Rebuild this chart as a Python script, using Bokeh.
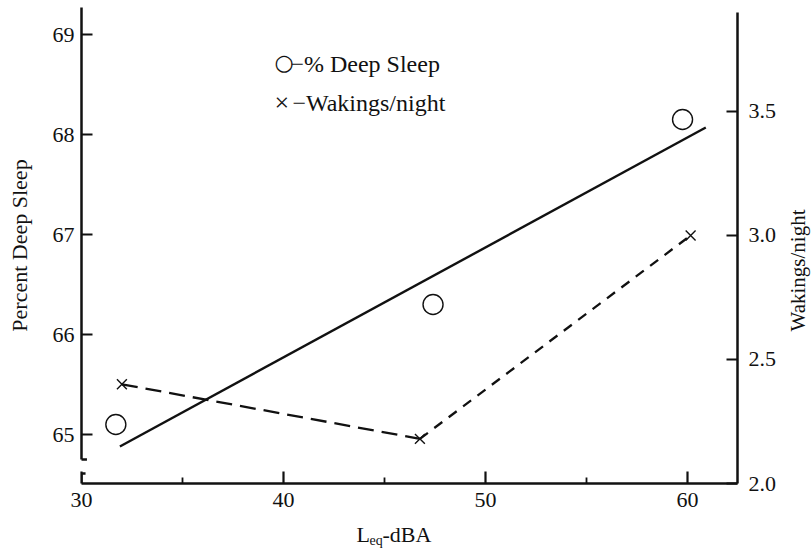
import math
from bokeh.plotting import figure
from bokeh.layouts import column, row
from bokeh.models import (Range1d, LinearAxis, FixedTicker, PrintfTickFormatter,
                          Label, Arrow)
from bokeh.core.properties import value
from bokeh.embed import file_html
from bokeh.resources import INLINE

# ---- data ----
leq_sleep = [31.7, 47.4, 59.75]          # L_eq (dBA) for % deep sleep points
deep_sleep = [65.1, 66.3, 68.15]         # Percent deep sleep (left axis)
leq_wake = [32.0, 46.75, 60.15]          # L_eq (dBA) for wakings points
wakings = [2.4, 2.18, 3.0]               # Wakings/night (right axis)
trend_x = [31.9, 60.9]                   # fitted line for % deep sleep
trend_y = [64.88, 68.07]

x_ticks = [30, 40, 50, 60]
x_minor = [35, 45, 55]
left_ticks = [65, 66, 67, 68, 69]
right_ticks = [2.0, 2.5, 3.0, 3.5]

FONT = "Liberation Serif"
INK = "#111111"
X_RANGE = (30, 62.47)
MAIN_W = 783

def blank(fig):
    fig.outline_line_color = None
    fig.grid.visible = False
    fig.background_fill_color = "white"
    fig.border_fill_color = "white"

p = figure(width=MAIN_W, height=519, output_backend="svg", toolbar_location=None,
           x_range=Range1d(*X_RANGE), y_range=Range1d(64.51, 69.27),
           min_border_left=81, min_border_right=46, min_border_top=7,
           min_border_bottom=36, x_axis_location=None, y_axis_location=None)
blank(p)
p.extra_y_ranges = {"wak": Range1d(2.0, 3.919)}

def style(ax):
    ax.axis_line_width = 2.5
    ax.axis_line_color = INK
    ax.major_tick_line_color = INK
    ax.major_tick_line_width = 2.2
    ax.minor_tick_line_color = INK
    ax.minor_tick_line_width = 1.8
    ax.major_tick_out = 0
    ax.minor_tick_out = 0
    ax.major_label_text_font = FONT
    ax.major_label_text_font_size = "22px"
    ax.major_label_text_color = INK
    ax.axis_label_text_font = FONT
    ax.axis_label_text_font_size = "22px"
    ax.axis_label_text_font_style = "normal"
    ax.axis_label_text_color = INK

xa = LinearAxis(ticker=FixedTicker(ticks=x_ticks, minor_ticks=x_minor), bounds=X_RANGE)
style(xa)
xa.major_tick_in = 12
xa.minor_tick_in = 6
xa.major_label_standoff = 9
p.add_layout(xa, "below")

ya = LinearAxis(ticker=FixedTicker(ticks=left_ticks, minor_ticks=[]), bounds=(64.75, 69.27),
                axis_label="Percent Deep Sleep")
style(ya)
ya.major_tick_in = 11
ya.major_label_standoff = 7
ya.axis_label_standoff = 18
p.add_layout(ya, "left")

yr = LinearAxis(y_range_name="wak", ticker=FixedTicker(ticks=right_ticks, minor_ticks=[]),
                bounds=(2.0, 3.90), formatter=PrintfTickFormatter(format="%.1f"))
style(yr)
yr.major_tick_in = 11
yr.major_label_standoff = 11
p.add_layout(yr, "right")

# axis break on the left axis
for (xs, ys, xe, ye) in [(30, 64.51, 30, 64.61), (29.79, 64.75, 30.27, 64.75),
                         (29.85, 64.61, 30.2, 64.61)]:
    p.add_layout(Arrow(end=None, x_start=xs, y_start=ys, x_end=xe, y_end=ye,
                       line_width=2.5, line_color=INK))

# fitted line for % deep sleep
p.line(trend_x, trend_y, line_width=2.4, line_color=INK)
# circles: % deep sleep
p.scatter(leq_sleep, deep_sleep, marker="circle", size=20, fill_color=None,
          line_color=INK, line_width=1.4)
# wakings/night dashed connecting line
p.line(leq_wake[:2], wakings[:2], y_range_name="wak", line_width=2.3,
       line_color=INK, line_dash="16 8")
p.line(leq_wake[1:], wakings[1:], y_range_name="wak", line_width=2.3,
       line_color=INK, line_dash="10 8")
p.scatter(leq_wake, wakings, marker="x", size=14, line_color=INK, line_width=1.4,
          y_range_name="wak")

# legend (written inside the plot, as in the reference)
p.add_layout(Label(x=39.55, y=68.71, text="\u25cb", text_font="DejaVu Sans",
                   text_font_size="22px", text_color=INK, text_baseline="middle",
                   text_align="left", y_offset=1))
p.add_layout(Label(x=39.55, y=68.71, x_offset=16, text="\u2212% Deep Sleep", text_font=FONT,
                   text_font_size="24px", text_color=INK, text_baseline="middle",
                   text_align="left"))
p.add_layout(Label(x=39.55, y=68.32, text="\u00d7", text_font=FONT,
                   text_font_size="26px", text_color=INK, text_baseline="middle",
                   text_align="left"))
p.add_layout(Label(x=39.55, y=68.32, x_offset=18, text="\u2212Wakings/night", text_font=FONT,
                   text_font_size="24px", text_color=INK, text_baseline="middle",
                   text_align="left"))

# x-axis title with subscript, in a thin strip below the plot
p2 = figure(width=MAIN_W, height=31, output_backend="svg", toolbar_location=None,
            x_range=Range1d(*X_RANGE), y_range=Range1d(0, 31),
            min_border_left=81, min_border_right=46, min_border_top=0, min_border_bottom=0,
            x_axis_location=None, y_axis_location=None)
blank(p2)
p2.text(x=[43.61], y=[16], text=["L"], text_font=value(FONT), text_font_size="22px",
        text_color=INK, text_align="left", text_baseline="middle")
p2.text(x=[43.61], y=[16], x_offset=13, y_offset=6, text=["eq"], text_font=value(FONT),
        text_font_size="14px", text_color=INK, text_align="left", text_baseline="middle")
p2.text(x=[43.61], y=[16], x_offset=26, text=["-dBA"], text_font=value(FONT),
        text_font_size="22px", text_color=INK, text_align="left", text_baseline="middle")

# right-axis title in a narrow strip on the right (reads bottom to top)
p3 = figure(width=811 - MAIN_W, height=550, output_backend="svg", toolbar_location=None,
            x_range=Range1d(0, 811 - MAIN_W), y_range=Range1d(0, 550),
            min_border=0, x_axis_location=None, y_axis_location=None)
blank(p3)
p3.text(x=[14], y=[280], text=["Wakings/night"], angle=math.pi / 2,
        text_font=value(FONT), text_font_size="21px", text_color=INK,
        text_align="center", text_baseline="middle")

layout = row(column(p, p2, spacing=0), p3, spacing=0)
open("out.html", "w").write(file_html(layout, INLINE))
